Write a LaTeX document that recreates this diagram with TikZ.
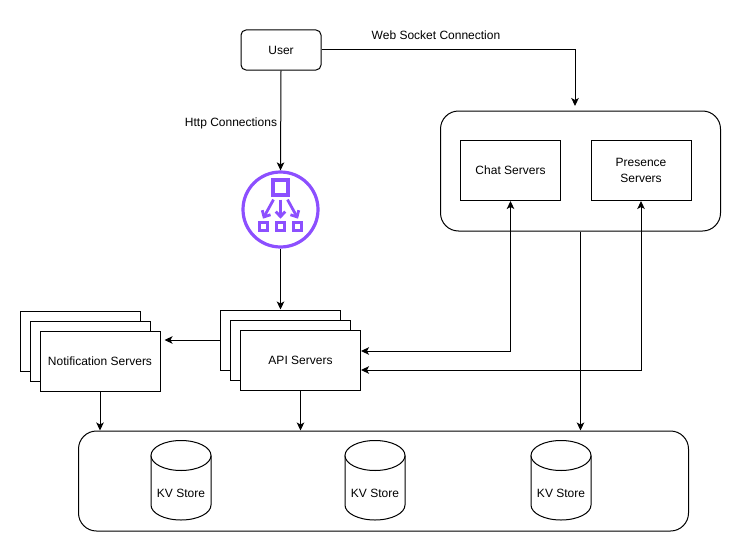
\documentclass[tikz,border=0pt]{standalone}
\usepackage{fontspec}
\setmainfont{Liberation Sans}
\usetikzlibrary{arrows.meta}
\definecolor{lbpurple}{HTML}{8C4FFF}
\tikzset{
  box/.style={draw, fill=white, line width=1pt, inner sep=0pt, align=center},
  roundbox/.style={box, rounded corners=18pt},
  kvline/.style={draw, fill=white, line width=1pt},
  conn/.style={line width=1pt, -{Stealth[length=8pt,width=7.5pt,inset=2pt]}},
  biconn/.style={line width=1pt, {Stealth[length=8pt,width=7.5pt,inset=2pt]}-{Stealth[length=8pt,width=7.5pt,inset=2pt]}},
  lbline/.style={draw=lbpurple, line width=3.2pt},
  lbarrow/.style={draw=lbpurple, line width=2.8pt, -{Straight Barb[length=5pt,width=9.5pt]}},
}
\begin{document}
\begin{tikzpicture}[x=1pt,y=-1pt,font=\fontsize{12}{14}\selectfont]
  \useasboundingbox (0,0) rectangle (741,551);

  \node[box, rounded corners=5pt, minimum width=80pt, minimum height=40pt] (user) at (281,50) {User};

  % server groups
  \node[roundbox, minimum width=280pt, minimum height=120pt] (chatgroup) at (580.5,171) {};
  \node[box, minimum width=100pt, minimum height=60pt] (chat) at (510.5,170.5) {Chat Servers};
  \node[box, minimum width=100pt, minimum height=60pt] (presence) at (641,170.5) {Presence\\[2pt]Servers};
  \node[roundbox, minimum width=610pt, minimum height=100pt] (kvgroup) at (383.5,481) {};

  % stacked boxes
  \foreach \i/\d in {1/0,2/10}
    \node[box, minimum width=120pt, minimum height=60pt] (notif\i) at (80+\d,341+\d) {};
  \node[box, minimum width=120pt, minimum height=60pt] (notif) at (100,361) {Notification Servers};
  \foreach \i/\d in {1/0,2/10}
    \node[box, minimum width=120pt, minimum height=60pt] (api\i) at (280.5+\d,340+\d) {};
  \node[box, minimum width=120pt, minimum height=60pt] (api) at (300.5,360) {API Servers};

  % kv stores
  \foreach \x/\n in {181/kvone,375/kvtwo,561/kvthree} {
    \draw[kvline] (\x-30,455.5) -- (\x-30,505) arc[start angle=180, end angle=360, x radius=30pt, y radius=15pt] -- (\x+30,455.5);
    \draw[kvline] (\x,455.5) ellipse[x radius=30pt, y radius=15pt];
    \node (\n) at (\x,493) {KV Store};
  }

  % load balancer icon
  \node[circle, lbline, minimum size=75pt, inner sep=0pt] (lb) at (280.5,209.5) {};
  \node[lbline, minimum size=15pt, inner sep=0pt] (lbtop) at (280.5,187.5) {};
  \foreach \n/\x in {lbleft/263.5,lbmid/280.5,lbright/297.5}
    \node[lbline, minimum size=8.5pt, inner sep=0pt] (\n) at (\x,226.5) {};
  \draw[lbarrow] (lbtop.south) ++(-7,3) -- ([xshift=-.5pt,yshift=2pt]lbleft.north);
  \draw[lbarrow] (lbtop.south) ++(0,3) -- ([yshift=2pt]lbmid.north);
  \draw[lbarrow] (lbtop.south) ++(7,3) -- ([xshift=.5pt,yshift=2pt]lbright.north);

  \node (wslabel) at (436,35) {Web Socket Connection};
  \node (httplabel) at (231,123.5) {Http Connections};

  % connections
  \coordinate (wsend) at (575,106);
  \coordinate (notifend) at (164.5,340);
  \draw[conn] (user.east) -| (wsend);
  \draw[conn] (user.south) -- (lb.north);
  \draw[conn] (lb.south) -- (api1.north);
  \draw[conn] (api1.west) -- (notifend);
  \draw[conn] (notif.south) -- (notif.south|-kvgroup.north);
  \draw[conn] (api.south) -- (api.south|-kvgroup.north);
  \draw[conn] (chatgroup.south) -- (chatgroup.south|-kvgroup.north);
  \draw[biconn] (chat.south) |- ([yshift=9pt]api.east);
  \draw[biconn] (presence.south) |- ([yshift=-10pt]api.east);
\end{tikzpicture}
\end{document}
